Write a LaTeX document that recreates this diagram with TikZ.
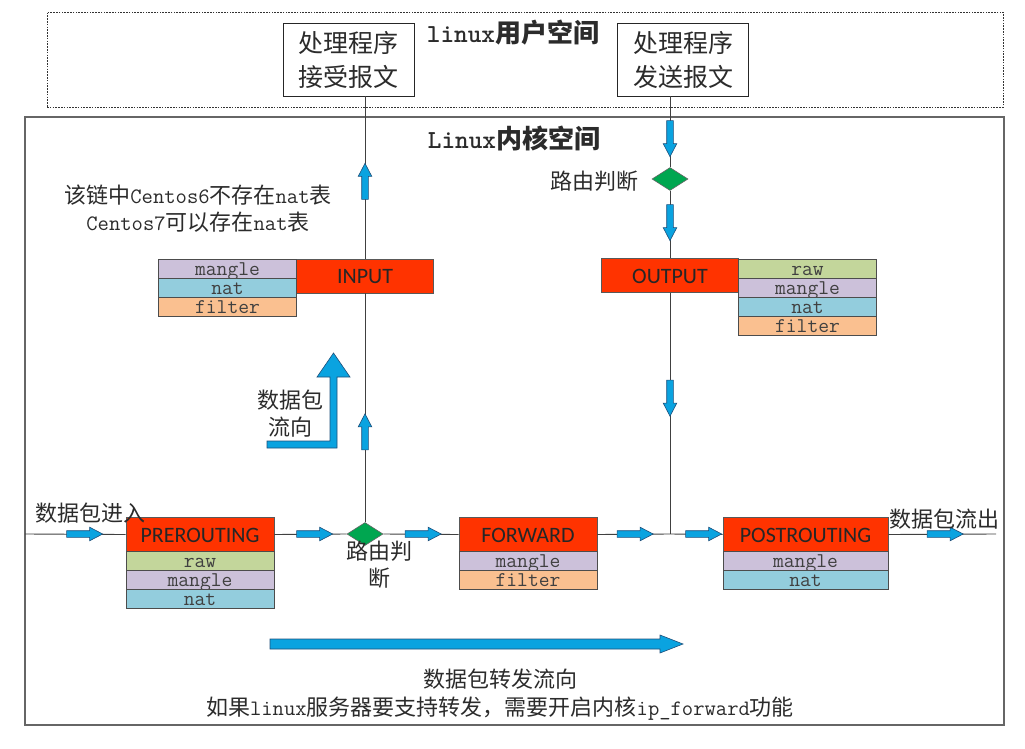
\documentclass[tikz,border=0pt]{standalone}
\usepackage{fontspec}
\setmainfont{Noto Sans CJK SC}
\newfontfamily\calfont{Carlito}
\usetikzlibrary{shapes.geometric,shapes.arrows}
\definecolor{chainred}{HTML}{FF3300}
\definecolor{rawc}{HTML}{C3D69B}
\definecolor{manglec}{HTML}{CCC1DA}
\definecolor{natc}{HTML}{93CDDD}
\definecolor{filterc}{HTML}{FAC090}
\definecolor{arrowblue}{HTML}{0AA3E0}
\definecolor{arrowedge}{HTML}{1F4E79}
\definecolor{diagreen}{HTML}{00A650}
\definecolor{txt}{HTML}{2B2B2B}
\tikzset{
  userbox/.style={draw=black!80, line width=0.9pt, dash pattern=on 1.6pt off 1.2pt},
  kernelbox/.style={draw=black!60, line width=1.3pt},
  progbox/.style={draw=black!85, line width=0.9pt, fill=white, minimum width=131pt, minimum height=73pt, inner sep=0pt, align=center, text=txt, font=\fontsize{25}{34}\selectfont},
  chainbox/.style={draw=black!65, line width=0.9pt, fill=chainred, inner sep=0pt, minimum height=34pt, text=black!85, font=\calfont\fontsize{22}{22}\selectfont, text height=15pt, text depth=0pt},
  rowbox/.style={draw=black!70, line width=0.9pt, inner sep=0pt, minimum height=19pt, text=black!75, font=\ttfamily\fontsize{21}{21}\selectfont, text height=13pt, text depth=0pt},
  conn/.style={draw=black!75, line width=0.9pt},
  barrow/.style={single arrow, draw=arrowedge, fill=arrowblue, line width=0.6pt, inner sep=3pt, minimum height=36pt, single arrow head extend=3.5pt, single arrow tip angle=55},
  decision/.style={diamond, draw=black!60, line width=0.6pt, fill=diagreen, inner sep=0pt, minimum width=36pt, minimum height=23pt, aspect=1.6},
  lbl/.style={text=txt, inner sep=0pt, align=center, font=\fontsize{22}{27}\selectfont},
  bigarrow/.style={fill=arrowblue, draw=arrowedge, line width=0.6pt}
}
\begin{document}
\begin{tikzpicture}[x=1pt,y=-1pt]
\useasboundingbox (0,0) rectangle (1025,749);
% spaces
\node[userbox, minimum width=956pt, minimum height=95pt, inner sep=0pt] (user) at (525,59.5) {};
\node[kernelbox, minimum width=979pt, minimum height=608pt, inner sep=0pt] (kernel) at (514.5,421) {};
\node[text=txt, font=\bfseries\fontsize{26}{26}\selectfont] (utitle) at (513,33) {{\ttfamily\bfseries linux}用户空间};
\node[text=txt, font=\bfseries\fontsize{26}{26}\selectfont] (ktitle) at (514,138) {{\ttfamily\bfseries Linux}内核空间};
% user programs
\node[progbox] (recv) at (348.5,59.5) {处理程序\\接受报文};
\node[progbox] (send) at (683,59.5) {处理程序\\发送报文};
% decisions
\node[decision] (d1) at (365,534) {};
\node[decision] (d2) at (670,179) {};
% chains
\node[chainbox, minimum width=148pt] (pre) at (200,534.5) {PREROUTING};
\node[rowbox, fill=rawc, minimum width=148pt] (preraw) at (200,560.5) {raw};
\node[rowbox, fill=manglec, minimum width=148pt] (premangle) at (200,579.5) {mangle};
\node[rowbox, fill=natc, minimum width=148pt] (prenat) at (200,598.5) {nat};

\node[chainbox, minimum width=138pt] (fwd) at (528,534.5) {FORWARD};
\node[rowbox, fill=manglec, minimum width=138pt] (fwdmangle) at (528,560.5) {mangle};
\node[rowbox, fill=filterc, minimum width=138pt] (fwdfilter) at (528,579.5) {filter};

\node[chainbox, minimum width=165pt] (post) at (805.5,534.5) {POSTROUTING};
\node[rowbox, fill=manglec, minimum width=165pt] (postmangle) at (805.5,560.5) {mangle};
\node[rowbox, fill=natc, minimum width=165pt] (postnat) at (805.5,579.5) {nat};

\node[chainbox, minimum width=137pt] (inp) at (365,276) {INPUT};
\node[rowbox, fill=manglec, minimum width=138pt] (inpmangle) at (227.5,268.5) {mangle};
\node[rowbox, fill=natc, minimum width=138pt] (inpnat) at (227.5,287.5) {nat};
\node[rowbox, fill=filterc, minimum width=138pt] (inpfilter) at (227.5,306.5) {filter};

\node[chainbox, minimum width=137pt] (outp) at (670,275.5) {OUTPUT};
\node[rowbox, fill=rawc, minimum width=138pt] (outraw) at (807.5,268.5) {raw};
\node[rowbox, fill=manglec, minimum width=138pt] (outmangle) at (807.5,287.5) {mangle};
\node[rowbox, fill=natc, minimum width=138pt] (outnat) at (807.5,306.5) {nat};
\node[rowbox, fill=filterc, minimum width=138pt] (outfilter) at (807.5,325.5) {filter};
% connectors
\coordinate (inpt) at (25,534);
\coordinate (outpt) at (996,534);
\coordinate (junc) at (670,534);
\draw[conn] (inpt) -- (pre.west);
\draw[conn] (pre.east) -- (d1.west);
\draw[conn] (d1.east) -- (fwd.west);
\draw[conn] (fwd.east) -- (junc) -- (post.west);
\draw[conn] (post.east) -- (outpt);
\draw[conn] (d1.north) -- (inp.south);
\draw[conn] (inp.north) -- (inp.north |- recv.south);
\draw[conn] (d2.north |- send.south) -- (d2.north);
\draw[conn] (d2.south) -- (outp.north);
\draw[conn] (outp.south) -- (junc);
% small flow arrows
\node[barrow] (a1) at (81.5,534) {};
\node[barrow] (a2) at (311.5,534) {};
\node[barrow] (a3) at (420,534) {};
\node[barrow] (a4) at (632,534) {};
\node[barrow] (a5) at (700.5,534) {};
\node[barrow] (a6) at (942,534) {};
\node[barrow, shape border rotate=90] (u1) at (365,184.5) {};
\node[barrow, shape border rotate=90] (u2) at (365,435) {};
\node[barrow, shape border rotate=270] (v1) at (670,135.5) {};
\node[barrow, shape border rotate=270] (v2) at (670,219.5) {};
\node[barrow, shape border rotate=270] (v3) at (670,395) {};
% big arrows
\draw[bigarrow] (267,441) -- (330,441) -- (330,377) -- (317,377) -- (333.5,353) -- (350,377) -- (337,377) -- (337,448) -- (267,448) -- cycle;
\draw[bigarrow] (270,639) -- (660,639) -- (660,635) -- (683,644) -- (660,653) -- (660,649) -- (270,649) -- cycle;
% labels
\node[lbl] (note) at (198,208.5) {该链中{\ttfamily Centos6}不存在{\ttfamily nat}表\\{\ttfamily Centos7}可以存在{\ttfamily nat}表};
\node[lbl] (rt2) at (594,181) {路由判断};
\node[lbl] (rt1) at (379,564.5) {路由判\\断};
\node[lbl] (flow) at (290,414) {数据包\\流向};
\node[lbl] (enter) at (90,513) {数据包进入};
\node[lbl] (leave) at (944,519) {数据包流出};
\node[lbl] (fwdflow) at (500,679) {数据包转发流向};
\node[lbl] (fwdnote) at (500,709) {如果{\ttfamily linux}服务器要支持转发，需要开启内核{\ttfamily ip\_forward}功能};
\end{tikzpicture}
\end{document}
